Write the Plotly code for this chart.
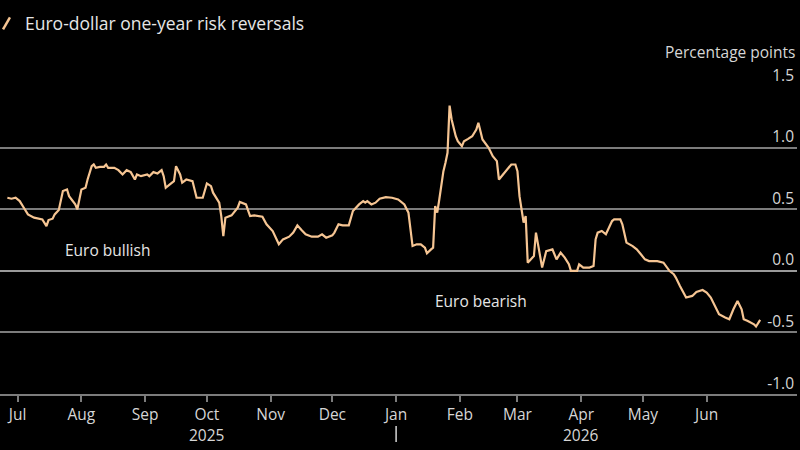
import plotly.graph_objects as go

dates = [
    "2025-06-26", "2025-06-28", "2025-06-30", "2025-07-02", "2025-07-04", "2025-07-06", "2025-07-09",
    "2025-07-11", "2025-07-13", "2025-07-15", "2025-07-16", "2025-07-18", "2025-07-19", "2025-07-21",
    "2025-07-22", "2025-07-23", "2025-07-25", "2025-07-26", "2025-07-29", "2025-07-30", "2025-07-31",
    "2025-08-01", "2025-08-03", "2025-08-04", "2025-08-06", "2025-08-07", "2025-08-08", "2025-08-10",
    "2025-08-12", "2025-08-13", "2025-08-14", "2025-08-17", "2025-08-19", "2025-08-21", "2025-08-23",
    "2025-08-25", "2025-08-27", "2025-08-28", "2025-08-30", "2025-09-02", "2025-09-03", "2025-09-05",
    "2025-09-07", "2025-09-09", "2025-09-10", "2025-09-11", "2025-09-13", "2025-09-15", "2025-09-16",
    "2025-09-18", "2025-09-19", "2025-09-21", "2025-09-24", "2025-09-25", "2025-09-26", "2025-09-29",
    "2025-10-01", "2025-10-03", "2025-10-04", "2025-10-07", "2025-10-08", "2025-10-09", "2025-10-10",
    "2025-10-13", "2025-10-16", "2025-10-17", "2025-10-20", "2025-10-22", "2025-10-24", "2025-10-28",
    "2025-10-30", "2025-11-02", "2025-11-04", "2025-11-05", "2025-11-07", "2025-11-10", "2025-11-12",
    "2025-11-14", "2025-11-16", "2025-11-18", "2025-11-21", "2025-11-24", "2025-11-26", "2025-11-28",
    "2025-12-01", "2025-12-02", "2025-12-04", "2025-12-06", "2025-12-09", "2025-12-11", "2025-12-14",
    "2025-12-16", "2025-12-17", "2025-12-18", "2025-12-20", "2025-12-22", "2025-12-24", "2025-12-27",
    "2025-12-30", "2026-01-02", "2026-01-05", "2026-01-07", "2026-01-08", "2026-01-09", "2026-01-11",
    "2026-01-13", "2026-01-15", "2026-01-16", "2026-01-18", "2026-01-19", "2026-01-20", "2026-01-21",
    "2026-01-22", "2026-01-23", "2026-01-24", "2026-01-25", "2026-01-26", "2026-01-27", "2026-01-28",
    "2026-01-30", "2026-01-31", "2026-02-02", "2026-02-03", "2026-02-05", "2026-02-07", "2026-02-09",
    "2026-02-10", "2026-02-12", "2026-02-15", "2026-02-17", "2026-02-19", "2026-02-20", "2026-02-22",
    "2026-02-24", "2026-02-26", "2026-02-28", "2026-03-01", "2026-03-02", "2026-03-04", "2026-03-05",
    "2026-03-06", "2026-03-09", "2026-03-10", "2026-03-13", "2026-03-15", "2026-03-18", "2026-03-20",
    "2026-03-22", "2026-03-24", "2026-03-26", "2026-03-27", "2026-03-30", "2026-03-31", "2026-04-02",
    "2026-04-05", "2026-04-07", "2026-04-08", "2026-04-09", "2026-04-11", "2026-04-13", "2026-04-14",
    "2026-04-16", "2026-04-17", "2026-04-20", "2026-04-21", "2026-04-23", "2026-04-26", "2026-04-28",
    "2026-04-30", "2026-05-02", "2026-05-04", "2026-05-08", "2026-05-11", "2026-05-13", "2026-05-14",
    "2026-05-16", "2026-05-17", "2026-05-19", "2026-05-21", "2026-05-22", "2026-05-25", "2026-05-27",
    "2026-05-30", "2026-06-01", "2026-06-03", "2026-06-05", "2026-06-07", "2026-06-10", "2026-06-12",
    "2026-06-14", "2026-06-16", "2026-06-18", "2026-06-19", "2026-06-21", "2026-06-24", "2026-06-25",
    "2026-06-26", "2026-06-27",
]

risk_reversal = [
    0.593, 0.585, 0.593, 0.566, 0.512, 0.458, 0.431,
    0.423, 0.417, 0.363, 0.412, 0.423, 0.458, 0.493,
    0.566, 0.647, 0.660, 0.606, 0.539, 0.498, 0.579,
    0.660, 0.674, 0.741, 0.849, 0.863, 0.836, 0.844,
    0.844, 0.863, 0.836, 0.836, 0.817, 0.782, 0.817,
    0.801, 0.741, 0.782, 0.768, 0.782, 0.768, 0.801,
    0.790, 0.817, 0.768, 0.674, 0.701, 0.728, 0.849,
    0.782, 0.715, 0.741, 0.728, 0.660, 0.593, 0.593,
    0.709, 0.687, 0.634, 0.553, 0.444, 0.282, 0.431,
    0.450, 0.512, 0.558, 0.539, 0.444, 0.450, 0.439,
    0.377, 0.323, 0.255, 0.215, 0.255, 0.277, 0.310,
    0.369, 0.331, 0.296, 0.277, 0.277, 0.296, 0.269,
    0.288, 0.310, 0.377, 0.369, 0.369, 0.485, 0.539,
    0.566, 0.553, 0.566, 0.539, 0.553, 0.585, 0.598,
    0.593, 0.579, 0.539, 0.472, 0.336, 0.201, 0.215,
    0.215, 0.188, 0.142, 0.174, 0.188, 0.525, 0.472,
    0.579, 0.715, 0.809, 0.877, 0.958, 1.341, 1.228,
    1.092, 1.052, 1.011, 1.052, 1.071, 1.092, 1.147,
    1.201, 1.066, 0.998, 0.930, 0.890, 0.741, 0.782,
    0.823, 0.863, 0.863, 0.809, 0.606, 0.391, 0.444,
    0.066, 0.120, 0.310, 0.026, 0.160, 0.174, 0.093,
    0.147, 0.107, 0.053, 0.000, 0.000, 0.053, 0.026,
    0.026, 0.039, 0.255, 0.310, 0.323, 0.296, 0.336,
    0.404, 0.417, 0.417, 0.377, 0.229, 0.201, 0.174,
    0.134, 0.093, 0.079, 0.079, 0.066, 0.026, -0.002,
    -0.028, -0.055, -0.123, -0.190, -0.217, -0.204, -0.172,
    -0.156, -0.177, -0.217, -0.285, -0.353, -0.379, -0.393,
    -0.312, -0.245, -0.312, -0.393, -0.407, -0.434, -0.452,
    -0.420, -0.399,
]

month_ticks = [
    "2025-07-01", "2025-08-01", "2025-09-01", "2025-10-01", "2025-11-01", "2025-12-01",
    "2026-01-01", "2026-02-01", "2026-03-01", "2026-04-01", "2026-05-01", "2026-06-01",
]
month_labels = ["Jul", "Aug", "Sep", "Oct", "Nov", "Dec", "Jan", "Feb", "Mar", "Apr", "May", "Jun"]
y_tick_values = [-1.0, -0.5, 0.0, 0.5, 1.0, 1.5]
y_tick_labels = ["-1.0", "-0.5", "0.0", "0.5", "1.0", "1.5"]
year_labels = ["2025", "2026"]
year_label_dates = ["2025-10-01", "2026-04-01"]
year_divider_date = "2026-01-01"

LINE = "#f6c593"
GRID = "#7c7c7c"
TXT = "#d6d6d6"
FONT = "Open Sans, Noto Sans, DejaVu Sans, sans-serif"

fig = go.Figure()
fig.add_trace(go.Scatter(
    x=dates, y=risk_reversal, mode="lines",
    name="Euro-dollar one-year risk reversals",
    line=dict(color=LINE, width=2.2),
    showlegend=False,
))

fig.update_layout(
    width=800, height=450,
    paper_bgcolor="black", plot_bgcolor="black",
    margin=dict(l=0, r=3, t=86, b=56),
    font=dict(family=FONT, color=TXT, size=15),
    xaxis=dict(
        type="date",
        range=["2025-06-22 10:00", "2026-07-14 22:00"],
        tickvals=month_ticks, ticktext=month_labels,
        ticks="outside", ticklen=6, tickwidth=1.5, tickcolor=GRID,
        showline=True, linecolor=GRID, linewidth=1.5,
        showgrid=False, zeroline=False,
        tickfont=dict(size=15.5, color=TXT),
    ),
    yaxis=dict(
        side="right", range=[-1.0, 1.5],
        tickvals=y_tick_values, ticktext=y_tick_labels,
        ticklabelposition="inside top", ticklabeloverflow="allow",
        ticks="", showgrid=True, gridcolor=GRID, gridwidth=1.5,
        zeroline=True, zerolinecolor="#9a9a9a", zerolinewidth=2,
        showline=False,
        tickfont=dict(size=15.5, color=TXT),
    ),
)

annotations = [
    dict(text="Euro-dollar one-year risk reversals", xref="paper", yref="paper",
         x=23 / 797, y=1.203, xanchor="left", yanchor="middle", showarrow=False,
         font=dict(size=17.5, color="#e6e6e6")),
    dict(text="Percentage points", xref="paper", yref="paper",
         x=1.0, y=1.112, xanchor="right", yanchor="middle", showarrow=False,
         font=dict(size=15.5, color=TXT)),
    dict(text="Euro bullish", xref="x", yref="y", x="2025-07-23", y=0.166,
         xanchor="left", yanchor="middle", showarrow=False,
         font=dict(size=15.5, color="#e6e6e6")),
    dict(text="Euro bearish", xref="x", yref="y", x="2026-01-19", y=-0.247,
         xanchor="left", yanchor="middle", showarrow=False,
         font=dict(size=15.5, color="#e6e6e6")),
]
for lab, d in zip(year_labels, year_label_dates):
    annotations.append(dict(text=lab, xref="x", yref="paper", x=d, y=-0.133,
                            xanchor="center", yanchor="middle", showarrow=False,
                            font=dict(size=15.5, color=TXT)))
fig.update_layout(annotations=annotations)

fig.add_shape(type="line", xref="paper", yref="paper",
              x0=0.0038, y0=1.184, x1=0.0125, y1=1.223,
              line=dict(color=LINE, width=2.5))
fig.add_shape(type="line", xref="x", yref="paper",
              x0=year_divider_date, x1=year_divider_date, y0=-0.104, y1=-0.156,
              line=dict(color=TXT, width=1.5))

fig.write_html("out.html")
